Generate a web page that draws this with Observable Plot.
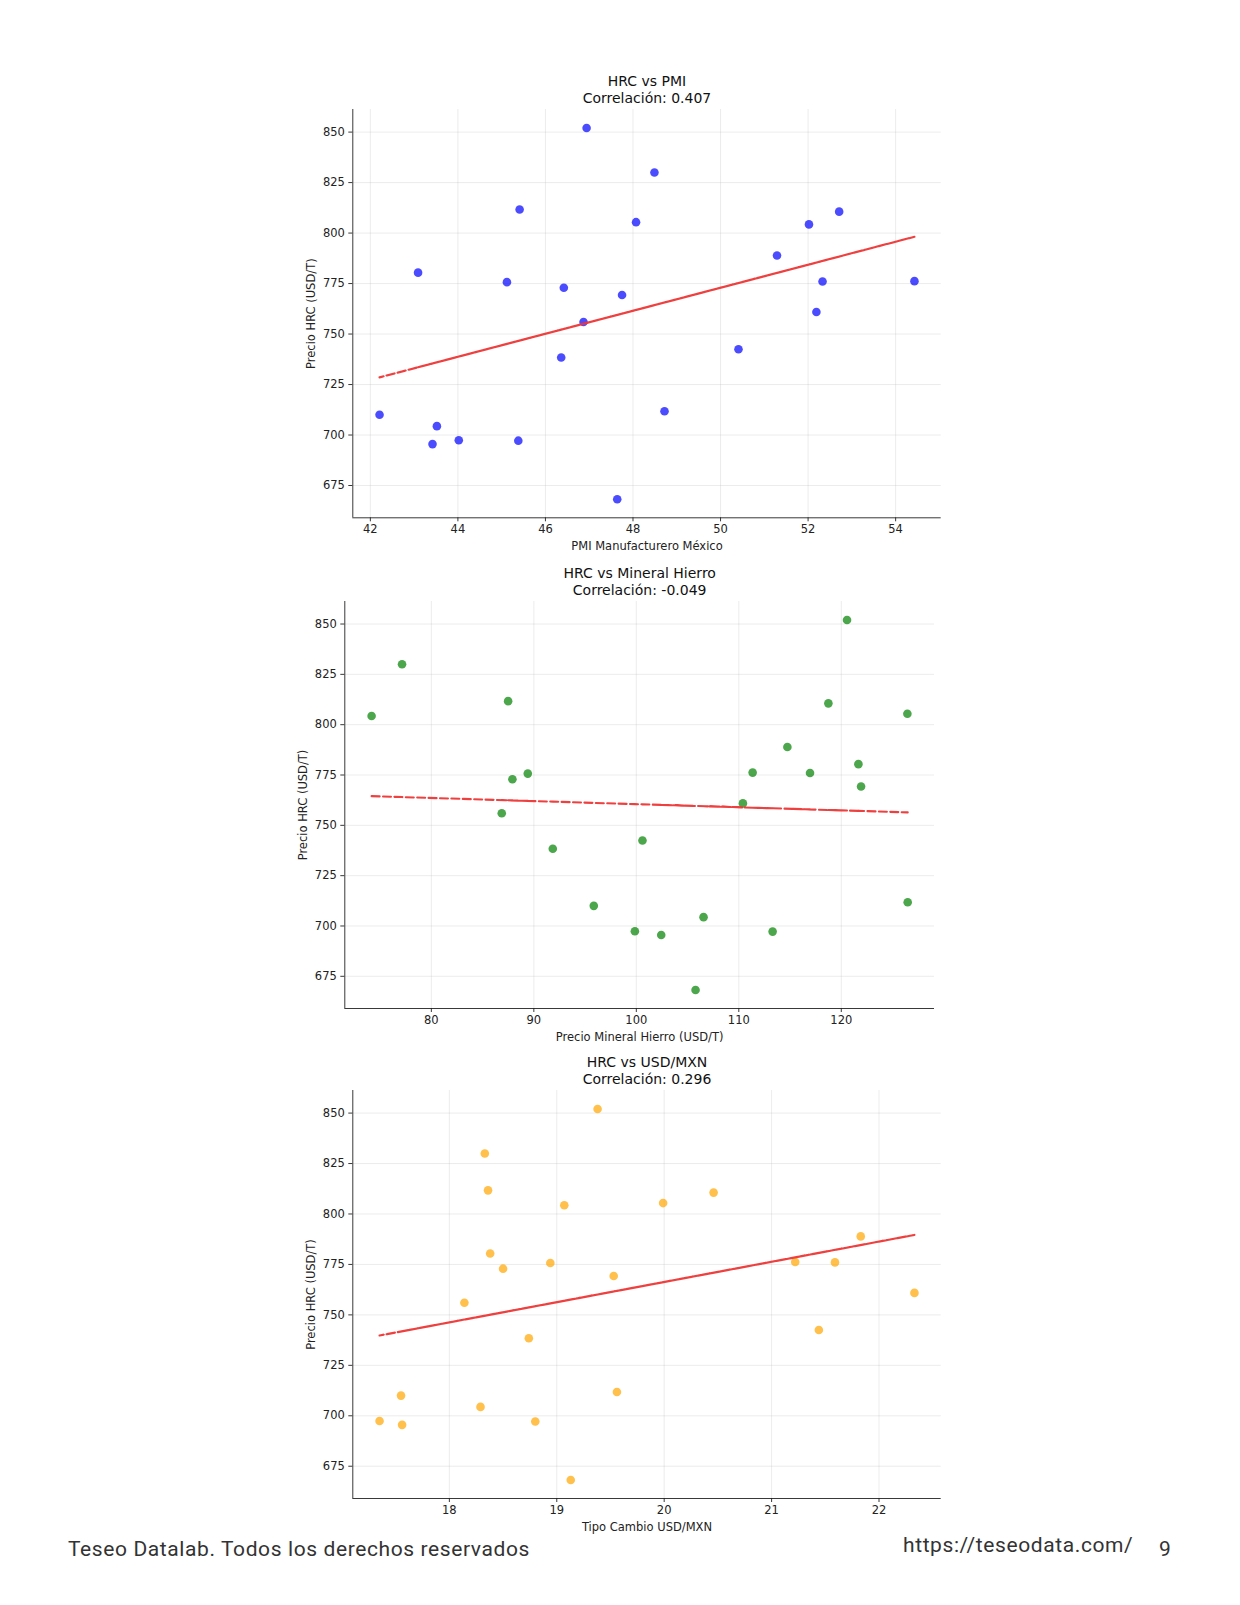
<!DOCTYPE html>
<html><head><meta charset="utf-8">
<script src="https://cdn.jsdelivr.net/npm/d3@7"></script>
<script src="https://cdn.jsdelivr.net/npm/@observablehq/plot@0.6"></script>
<style>
body{margin:0;background:#fff;width:1240px;height:1605px;position:relative;overflow:hidden;font-family:"DejaVu Sans",sans-serif}
.chart{position:absolute;left:0}
.foot{position:absolute;font-family:Roboto,sans-serif;font-size:21px;color:#333;white-space:nowrap;line-height:1}
</style></head><body>
<div id="c0" class="chart"></div>
<div id="c1" class="chart"></div>
<div id="c2" class="chart"></div>
<div class="foot" style="left:68px;top:1539px;letter-spacing:0.6px">Teseo Datalab. Todos los derechos reservados</div>
<div class="foot" style="left:903px;top:1535px;letter-spacing:0.6px">https://teseodata.com/</div>
<div class="foot" style="left:1159px;top:1539px">9</div>
<script>
// ---- data (one observation per index, in series order) ----
const hrc  = [804.3, 830.0, 772.9, 756.0, 775.7, 811.7, 738.4, 710.0, 697.4, 742.5, 668.2, 695.5, 760.9, 704.4, 697.2, 776.2, 776.0, 788.9, 852.0, 810.6, 769.3, 780.4, 805.4, 711.8];
const pmi  = [52.02, 48.49, 46.42, 46.87, 45.12, 45.41, 46.36, 42.21, 44.02, 50.41, 47.64, 43.42, 52.19, 43.52, 45.38, 54.43, 52.33, 51.29, 46.94, 52.71, 47.75, 43.09, 48.07, 48.72];
const iron = [74.17, 77.14, 87.91, 86.87, 89.41, 87.49, 91.85, 95.85, 99.86, 100.60, 105.78, 102.43, 110.40, 106.56, 113.30, 111.35, 116.95, 114.74, 120.56, 118.74, 121.93, 121.67, 126.45, 126.48];
const fx   = [19.07, 18.33, 18.50, 18.14, 18.94, 18.36, 18.74, 17.55, 17.35, 21.44, 19.13, 17.56, 22.33, 18.29, 18.80, 21.22, 21.59, 21.83, 19.38, 20.46, 19.53, 18.38, 19.99, 19.56];

const titles = ["HRC vs PMI", "HRC vs Mineral Hierro", "HRC vs USD/MXN"];
const corrLabels = ["Correlación: 0.407", "Correlación: -0.049", "Correlación: 0.296"];
const xLabels = ["PMI Manufacturero México", "Precio Mineral Hierro (USD/T)", "Tipo Cambio USD/MXN"];
const yLabel = "Precio HRC (USD/T)";
const yTicks = [675, 700, 725, 750, 775, 800, 825, 850];
const xTicks = [[42, 44, 46, 48, 50, 52, 54], [80, 90, 100, 110, 120], [18, 19, 20, 21, 22]];
const colors = ["blue", "green", "orange"];
const xSeries = [pmi, iron, fx];

// ---- layout of each panel (frame edges in page px) ----
const frames = [
  {left: 352.3, right: 940.7, top: 109, bottom: 517.3},
  {left: 344.3, right: 934, top: 600.7, bottom: 1007.7},
  {left: 352.3, right: 940.7, top: 1090, bottom: 1498}
];

function pad(ext) { const r = ext[1] - ext[0]; return [ext[0] - 0.05 * r, ext[1] + 0.05 * r]; }

xSeries.forEach((xs, i) => {
  const f = frames[i];
  const mt = 70, mb = 42;
  const rows = xs.map((x, k) => ({x, y: hrc[k]}));
  // least-squares fit, drawn through the x values in series order
  const mx = d3.mean(xs), my = d3.mean(hrc);
  const slope = d3.sum(xs, (x, k) => (x - mx) * (hrc[k] - my)) / d3.sum(xs, x => (x - mx) ** 2);
  const fit = xs.map(x => ({x, y: my + slope * (x - mx)}));
  const xd = pad(d3.extent(xs)), yd = pad(d3.extent(hrc));
  const chart = Plot.plot({
    width: 1240,
    height: (f.bottom - f.top) + mt + mb,
    marginTop: mt, marginBottom: mb, marginLeft: f.left, marginRight: 1240 - f.right,
    x: {domain: xd},
    y: {domain: yd},
    style: {fontFamily: "DejaVu Sans, sans-serif", fontSize: "11.5px", color: "#222", background: "transparent", overflow: "visible"},
    marks: [
      Plot.gridX(xTicks[i], {stroke: "#b0b0b0", strokeOpacity: 0.3, strokeWidth: 0.8}),
      Plot.gridY(yTicks, {stroke: "#b0b0b0", strokeOpacity: 0.3, strokeWidth: 0.8}),
      Plot.ruleX([xd[0]], {stroke: "#222", strokeWidth: 0.9}),
      Plot.ruleY([yd[0]], {stroke: "#222", strokeWidth: 0.9}),
      Plot.axisX(xTicks[i], {tickSize: 4, tickPadding: 3, label: null, tickFormat: d => String(d), strokeWidth: 0.9}),
      Plot.axisY(yTicks, {tickSize: 4, tickPadding: 4, label: null, tickFormat: d => String(d), strokeWidth: 0.9}),
      Plot.dot(rows, {x: "x", y: "y", r: 4.3, fill: colors[i], fillOpacity: 0.7, stroke: "none"}),
      Plot.line(fit, {x: "x", y: "y", stroke: "#ee3636", strokeOpacity: 0.95, strokeWidth: 2.1, strokeDasharray: "8,3.4"}),
      Plot.text([titles[i]], {frameAnchor: "top", dy: -27.5, lineAnchor: "middle", fontSize: 14, fill: "#111"}),
      Plot.text([corrLabels[i]], {frameAnchor: "top", dy: -11, lineAnchor: "middle", fontSize: 14, fill: "#111"}),
      Plot.text([xLabels[i]], {frameAnchor: "bottom", dy: 28.5, lineAnchor: "middle", fontSize: 11.5, fill: "#222"}),
      Plot.text([yLabel], {frameAnchor: "left", dx: -41.3, rotate: -90, lineAnchor: "middle", textAnchor: "middle", fontSize: 11.5, fill: "#222"})
    ]
  });
  const el = document.getElementById("c" + i);
  el.style.top = (f.top - mt) + "px";
  el.appendChild(chart);
});
</script>
</body></html>
